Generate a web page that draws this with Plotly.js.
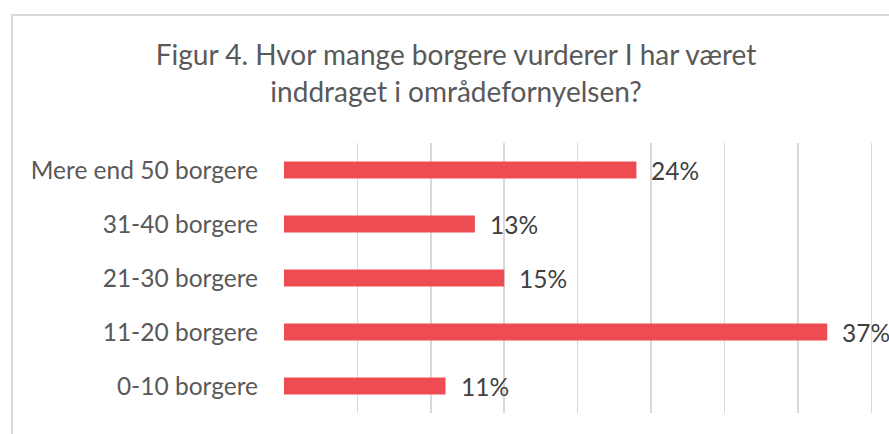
<!DOCTYPE html>
<html>
<head>
<meta charset="utf-8">
<script src="https://cdn.plot.ly/plotly-3.0.1.min.js"></script>
<style>
html,body{margin:0;padding:0;background:#fff;overflow:hidden;}
#frame{position:absolute;left:11px;top:14px;width:1200px;height:1000px;border:2px solid #d9d9d9;box-sizing:border-box;}
#chart{position:absolute;left:0;top:0;width:889px;height:434px;}
</style>
</head>
<body>
<div id="frame"></div>
<div id="chart"></div>
<script>
var categories = ['0-10 borgere', '11-20 borgere', '21-30 borgere', '31-40 borgere', 'Mere end 50 borgere'];
var values = [11, 37, 15, 13, 24];
var titleText = 'Figur 4. Hvor mange borgere vurderer I har været<br>inddraget i områdefornyelsen?';

var FONT = 'Lato, "Source Sans Pro", sans-serif';

var trace = {
  type: 'bar',
  orientation: 'h',
  y: categories,
  x: values,
  marker: {color: '#ee4c52'},
  hoverinfo: 'none'
};

var annotations = categories.map(function(c, i){
  return {
    x: values[i], y: c, xref: 'x', yref: 'y',
    text: values[i] + '%', showarrow: false,
    xanchor: 'left', xshift: 13,
    font: {family: FONT, size: 24.5, color: '#404040'}
  };
});

var layout = {
  width: 889, height: 434,
  margin: {l: 284, r: 3, t: 143, b: 21, pad: 0},
  paper_bgcolor: 'rgba(0,0,0,0)',
  plot_bgcolor: 'rgba(0,0,0,0)',
  bargap: 0.685,
  showlegend: false,
  title: {
    text: titleText,
    font: {family: FONT, size: 28, color: '#595959'},
    xref: 'container', x: 0.513, xanchor: 'center',
    yref: 'container', y: 0.85, yanchor: 'top'
  },
  xaxis: {
    range: [0, 41],
    dtick: 5,
    showgrid: true, gridcolor: '#d9d9d9', gridwidth: 1.5,
    zeroline: false,
    showticklabels: false,
    showline: false,
    fixedrange: true
  },
  yaxis: {
    showgrid: false, zeroline: false, showline: false,
    ticks: '',
    ticklabelstandoff: 25,
    tickfont: {family: FONT, size: 24.5, color: '#595959'},
    fixedrange: true
  },
  annotations: annotations
};

Plotly.newPlot('chart', [trace], layout, {displayModeBar: false, staticPlot: true});
</script>
</body>
</html>
